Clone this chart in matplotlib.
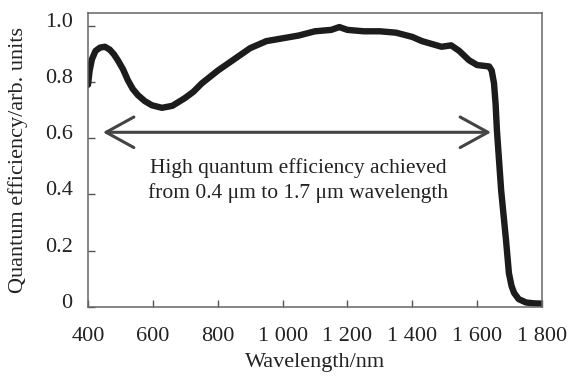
import matplotlib
matplotlib.use("Agg")
import matplotlib.pyplot as plt
import matplotlib.transforms as mtransforms

plt.rcParams['font.family'] = ['Liberation Serif', 'DejaVu Serif']

wavelength = [400, 405, 412, 423, 437, 452, 467, 480, 492, 508, 523, 538, 554, 575, 597,
              628, 660, 698, 725, 751, 800, 850, 900, 950, 1000, 1050, 1100, 1150, 1175,
              1200, 1250, 1300, 1350, 1400, 1430, 1460, 1490, 1520, 1545, 1575, 1600,
              1615, 1637, 1645, 1652, 1657, 1661, 1674, 1689, 1698, 1706, 1714, 1728,
              1751, 1775, 1800]
efficiency = [0.79, 0.84, 0.88, 0.91, 0.922, 0.925, 0.915, 0.898, 0.877, 0.845, 0.806,
              0.775, 0.753, 0.732, 0.717, 0.708, 0.715, 0.742, 0.765, 0.795, 0.84, 0.88,
              0.92, 0.945, 0.955, 0.965, 0.98, 0.985, 0.995, 0.985, 0.98, 0.98, 0.975,
              0.96, 0.945, 0.935, 0.925, 0.93, 0.91, 0.877, 0.86, 0.858, 0.855, 0.84,
              0.795, 0.72, 0.628, 0.415, 0.238, 0.12, 0.075, 0.05, 0.028, 0.016, 0.013,
              0.012]

x_ticks = [400, 600, 800, 1000, 1200, 1400, 1600, 1800]
x_tick_labels = ["400", "600", "800", "1 000", "1 200", "1 400", "1 600", "1 800"]
y_ticks = [0, 0.2, 0.4, 0.6, 0.8, 1.0]
y_tick_labels = ["0", "0.2", "0.4", "0.6", "0.8", "1.0"]

arrow_start, arrow_end, arrow_y = 446, 1643, 0.621
annotation = "High quantum efficiency achieved\nfrom 0.4 μm to 1.7 μm wavelength"

fig = plt.figure(figsize=(5.68, 3.76), dpi=100)
ax = fig.add_axes([88/568, 1 - 307/376, (542-88)/568, (307-13)/376])

ax.plot(wavelength, efficiency, color='#1c1c1c', lw=4.6, solid_capstyle='round',
        solid_joinstyle='round')

ax.annotate('', xy=(arrow_start, arrow_y), xytext=(arrow_end, arrow_y),
            arrowprops=dict(arrowstyle='<->,head_length=1.0,head_width=0.55',
                            color='#444444', lw=2.2, mutation_scale=20,
                            shrinkA=0, shrinkB=0))
ax.text(1049, 0.45, annotation, ha='center', va='center', fontsize=15.5,
        color='#222222', linespacing=1.3)

ax.set_xlim(400, 1800)
ax.set_ylim(0, 1.045)
ax.set_xticks(x_ticks)
ax.set_xticklabels(x_tick_labels)
ax.set_yticks(y_ticks)
ax.set_yticklabels(y_tick_labels)
ax.tick_params(direction='in', length=5, width=1, color='#555555',
               labelsize=16, labelcolor='#222222')
ax.tick_params(axis='x', pad=14.5)
ax.tick_params(axis='y', pad=11)
offset = mtransforms.ScaledTranslation(0, 6/100, fig.dpi_scale_trans)
for lab in ax.get_yticklabels():
    lab.set_transform(lab.get_transform() + offset)

for sp in ax.spines.values():
    sp.set_color('#666666')
    sp.set_linewidth(1.1)

ax.set_xlabel('Wavelength/nm', fontsize=16, color='#222222', labelpad=5)
ax.set_ylabel('Quantum efficiency/arb. units', fontsize=16, color='#222222', labelpad=12)

fig.savefig('out.png', dpi=100)
